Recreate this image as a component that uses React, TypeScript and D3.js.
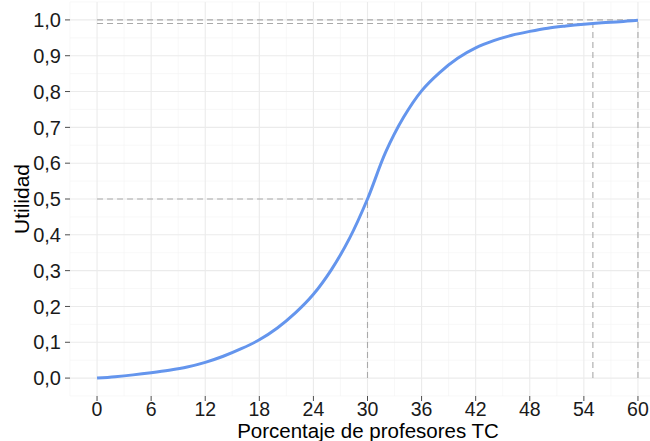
import React from "react";
import * as d3 from "d3";

const xValues = [0, 2, 4, 6, 8, 10, 12, 14, 16, 18, 20, 22, 24, 26, 28, 30, 32, 34, 36, 38, 40, 42, 44, 46, 48, 50, 52, 54, 56, 58, 60];
const yValues = [0, 0.004, 0.009, 0.015, 0.022, 0.031, 0.044, 0.061, 0.082, 0.107, 0.14, 0.182, 0.234, 0.303, 0.39, 0.5, 0.63, 0.728, 0.802, 0.853, 0.893, 0.922, 0.942, 0.957, 0.968, 0.977, 0.983, 0.988, 0.992, 0.995, 0.999];
const xTicks = [0, 6, 12, 18, 24, 30, 36, 42, 48, 54, 60];
const yTicks = [0, 0.1, 0.2, 0.3, 0.4, 0.5, 0.6, 0.7, 0.8, 0.9, 1.0];
const refPoints = [
  { x: 30, y: 0.5 },
  { x: 55, y: 0.99 },
  { x: 60, y: 1.0 },
];
const xLabel = "Porcentaje de profesores TC";
const yLabel = "Utilidad";

const W = 650;
const H = 441;
const FONT = "'Liberation Sans', Arial, Helvetica, sans-serif";

export default function App() {
  const x = d3.scaleLinear().domain([-3, 63]).range([70, 665]);
  const y = d3.scaleLinear().domain([-0.05, 1.05]).range([396, 2]);

  const xMinor = d3.range(-3, 64, 6);
  const yMinor = d3.range(-0.05, 1.06, 0.1);

  const data = xValues.map((v, i) => ({ x: v, y: yValues[i] }));
  const line = d3
    .line<{ x: number; y: number }>()
    .x((d) => x(d.x))
    .y((d) => y(d.y))
    .curve(d3.curveCatmullRom.alpha(0.5));

  const fmt = (v: number) => v.toFixed(1).replace(".", ",");

  return (
    <svg
      width={W}
      height={H}
      style={{ position: "absolute", left: 0, top: 0, background: "#fff" }}
      fontFamily={FONT}
    >
      <rect x={0} y={0} width={W} height={H} fill="#fff" />
      <g>
        {xMinor.map((v) => (
          <line key={"xm" + v} x1={x(v)} x2={x(v)} y1={y(-0.05)} y2={y(1.05)} stroke="#f3f3f3" strokeWidth={0.6} />
        ))}
        {yMinor.map((v) => (
          <line key={"ym" + v} x1={x(-3)} x2={x(63)} y1={y(v)} y2={y(v)} stroke="#f3f3f3" strokeWidth={0.6} />
        ))}
        {xTicks.map((v) => (
          <line key={"xg" + v} x1={x(v)} x2={x(v)} y1={y(-0.05)} y2={y(1.05)} stroke="#ebebeb" strokeWidth={1.1} />
        ))}
        {yTicks.map((v) => (
          <line key={"yg" + v} x1={x(-3)} x2={x(63)} y1={y(v)} y2={y(v)} stroke="#ebebeb" strokeWidth={1.1} />
        ))}
      </g>
      <g stroke="#a9a9a9" strokeWidth={1.1} strokeDasharray="6 4" fill="none">
        {refPoints.map((p, i) => (
          <g key={"ref" + i}>
            <line x1={x(0)} x2={x(p.x)} y1={y(p.y)} y2={y(p.y)} />
            <line x1={x(p.x)} x2={x(p.x)} y1={y(0)} y2={y(p.y)} />
          </g>
        ))}
      </g>
      <path d={line(data) || ""} fill="none" stroke="#6495ED" strokeWidth={3} strokeLinecap="butt" />
      <g>
        {yTicks.map((v) => (
          <g key={"yt" + v}>
            <line x1={65} x2={70} y1={y(v)} y2={y(v)} stroke="#4d4d4d" strokeWidth={1} />
            <text x={61} y={y(v)} dy="0.36em" textAnchor="end" fontSize={20} fill="#1a1a1a">
              {fmt(v)}
            </text>
          </g>
        ))}
        {xTicks.map((v) => (
          <g key={"xt" + v}>
            <line x1={x(v)} x2={x(v)} y1={396} y2={401} stroke="#4d4d4d" strokeWidth={1} />
            <text x={x(v)} y={416} textAnchor="middle" fontSize={19.5} fill="#1a1a1a">
              {v}
            </text>
          </g>
        ))}
      </g>
      <text x={368} y={438} textAnchor="middle" fontSize={20.5} fill="#000">
        {xLabel}
      </text>
      <text transform={`translate(29,${y(0.5)}) rotate(-90)`} textAnchor="middle" fontSize={21} fill="#000">
        {yLabel}
      </text>
    </svg>
  );
}
